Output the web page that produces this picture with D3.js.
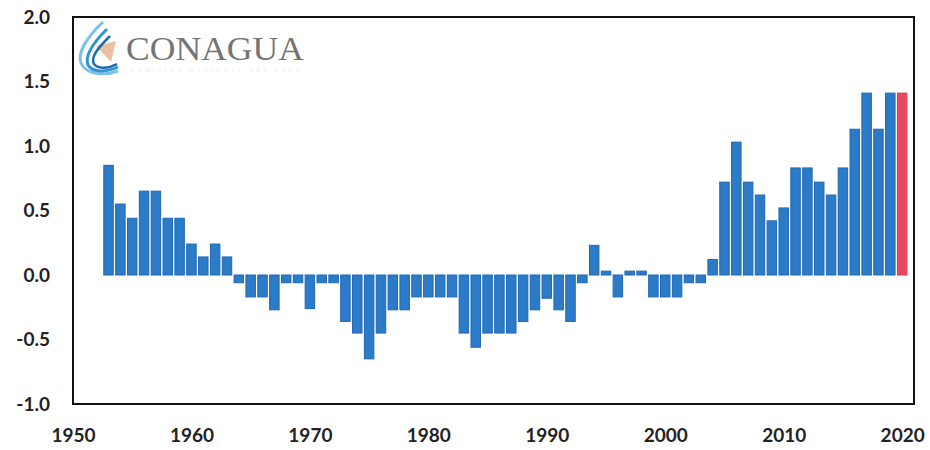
<!DOCTYPE html>
<html>
<head>
<meta charset="utf-8">
<script src="https://cdn.jsdelivr.net/npm/d3@7"></script>
<style>
  body { margin: 0; background: #fff; }
  .axis text { font-family: Lato, "Open Sans", sans-serif; font-weight: 700; fill: #222; }
</style>
</head>
<body>
<div id="chart"></div>
<script>
const years = d3.range(1953, 2021);
const anomalies = [
  0.85, 0.55, 0.44, 0.65, 0.65, 0.44, 0.44, 0.24, 0.14, 0.24,
  0.14, -0.06, -0.17, -0.17, -0.27, -0.06, -0.06, -0.26, -0.06, -0.06,
  -0.36, -0.45, -0.65, -0.45, -0.27, -0.27, -0.17, -0.17, -0.17, -0.17,
  -0.45, -0.56, -0.45, -0.45, -0.45, -0.36, -0.27, -0.18, -0.27, -0.36,
  -0.06, 0.23, 0.03, -0.17, 0.03, 0.03, -0.17, -0.17, -0.17, -0.06,
  -0.06, 0.12, 0.72, 1.03, 0.72, 0.62, 0.42, 0.52, 0.83, 0.83,
  0.72, 0.62, 0.83, 1.13, 1.41, 1.13, 1.41, 1.41
];
const yTicks = [-1, -0.5, 0, 0.5, 1, 1.5, 2];
const xTicks = [1950, 1960, 1970, 1980, 1990, 2000, 2010, 2020];
const highlightYear = 2020;

const width = 930, height = 450;
const plot = { left: 73, right: 914, top: 17, bottom: 404 };

const svg = d3.select("#chart")
  .append("svg")
    .attr("width", width)
    .attr("height", height);

const x = d3.scaleLinear()
  .domain([1950, 2021])
  .range([plot.left, plot.right]);

const y = d3.scaleLinear()
  .domain([-1, 2])
  .range([plot.bottom, plot.top]);

const barW = (x(1) - x(0)) * 0.8;

// logo
const logo = svg.append("g").attr("class", "logo");
logo.append("path")
  .attr("d", "M96,46 L116,41 L111,62 Z")
  .attr("fill", "#e3a57a")
  .attr("opacity", 0.7);
logo.append("path")
  .attr("d", "M103,22 C88,36 77,52 81,63 C85,73 101,77 118,71")
  .attr("fill", "none").attr("stroke", "#7cc0ea").attr("stroke-width", 3);
logo.append("path")
  .attr("d", "M107,29 C94,42 84,55 88,65 C92,72 105,73 118,67")
  .attr("fill", "none").attr("stroke", "#2f93d4").attr("stroke-width", 3);
logo.append("path")
  .attr("d", "M110,36 C99,47 90,57 94,64 C98,69 108,69 117,64")
  .attr("fill", "none").attr("stroke", "#1b6db0").attr("stroke-width", 2.5);
logo.append("text")
  .attr("x", 126)
  .attr("y", 60)
  .attr("font-family", "Liberation Serif, serif")
  .attr("font-size", 34)
  .attr("textLength", 178)
  .attr("lengthAdjust", "spacingAndGlyphs")
  .attr("fill", "#747474")
  .text("CONAGUA");
logo.append("text")
  .attr("x", 130)
  .attr("y", 72)
  .attr("font-family", "Liberation Sans, sans-serif")
  .attr("font-size", 6)
  .attr("textLength", 170)
  .attr("fill", "#ccc")
  .attr("opacity", 0.35)
  .text("COMISIÓN NACIONAL DEL AGUA");

// bars
svg.append("g")
    .attr("class", "bars")
  .selectAll("rect")
  .data(years.map((yr, i) => ({ year: yr, value: anomalies[i] })))
  .join("rect")
    .attr("x", d => x(d.year) - barW / 2)
    .attr("y", d => y(Math.max(0, d.value)))
    .attr("width", barW)
    .attr("height", d => Math.abs(y(d.value) - y(0)))
    .attr("fill", d => d.year === highlightYear ? "#e8475f" : "#2c7bc8")
    .attr("stroke", d => d.year === highlightYear ? "#d83a52" : "#1f68b2")
    .attr("stroke-width", 1);

// frame
svg.append("rect")
  .attr("x", plot.left)
  .attr("y", plot.top)
  .attr("width", plot.right - plot.left)
  .attr("height", plot.bottom - plot.top)
  .attr("fill", "none")
  .attr("stroke", "#111")
  .attr("stroke-width", 2);

svg.append("g")
    .attr("class", "axis")
    .attr("transform", `translate(${plot.left},0)`)
  .call(d3.axisLeft(y)
    .tickValues(yTicks)
    .tickFormat(d => d.toFixed(1))
    .tickSize(0)
    .tickPadding(23))
  .call(g => g.select(".domain").remove())
  .selectAll("text")
    .attr("font-size", 19);

svg.append("g")
    .attr("class", "axis")
    .attr("transform", `translate(0,${plot.bottom})`)
  .call(d3.axisBottom(x)
    .tickValues(xTicks)
    .tickFormat(d => d)
    .tickSize(0)
    .tickPadding(25))
  .call(g => g.select(".domain").remove())
  .selectAll("text")
    .attr("font-size", 19);
</script>
</body>
</html>
